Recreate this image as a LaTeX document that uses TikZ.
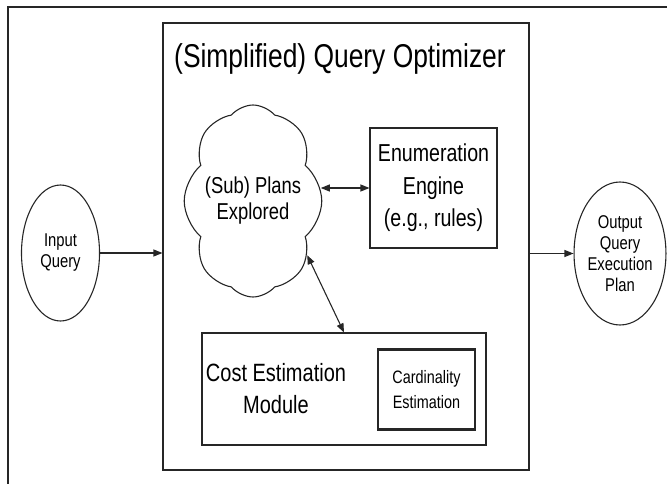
\documentclass[tikz,border=0pt]{standalone}
\usepackage{fontspec}
\setmainfont[FakeStretch=0.8]{Liberation Sans}
\usetikzlibrary{shapes.geometric,shapes.symbols,arrows.meta}
\begin{document}
\begin{tikzpicture}[x=1pt,y=-1pt,
  line/.style={draw=black!85, line width=1.1pt},
  box/.style={line, rectangle, inner sep=0pt},
  oval/.style={line, ellipse, inner sep=0pt, align=center,
    font=\fontsize{18.5}{21}\selectfont},
  tip/.style={Triangle[length=9pt,width=7pt]},
  flow/.style={line, -{Triangle[length=9pt,width=7pt]}},
  both/.style={line, {Triangle[length=9pt,width=7pt]}-{Triangle[length=9pt,width=7pt]}}
]
\useasboundingbox (0,0) rectangle (667,484);

% page frame
\draw[line, line width=1.4pt] (8,484) |- (667,7);

% optimizer container
\node[box, minimum width=366pt, minimum height=447pt] (opt) at (346,246.5) {};
\node[anchor=base, font=\fontsize{33}{40}\selectfont] (title) at (340,68) {(Simplified) Query Optimizer};

% explored plans cloud
\node[line, cloud, cloud puffs=8, cloud puff arc=100, cloud ignores aspect,
      minimum width=136pt, minimum height=192pt, inner sep=0pt, align=center,
      font=\fontsize{23}{26}\selectfont] (cloud) at (253,201) {(Sub) Plans\\Explored};

% enumeration engine
\node[box, minimum width=127pt, minimum height=120pt, align=center,
      font=\fontsize{24.5}{32.5}\selectfont] (enum) at (433.5,188) {Enumeration\\Engine\\(e.g., rules)};

% cost estimation
\node[box, minimum width=284pt, minimum height=112pt] (cost) at (344,389) {};
\node[align=center, font=\fontsize{25}{32}\selectfont] (costtxt) at (276,389) {Cost Estimation\\Module};
\node[box, line width=2.6pt, minimum width=97pt, minimum height=80pt, align=center,
      font=\fontsize{18}{25}\selectfont] (card) at (426.5,389.5) {Cardinality\\Estimation};

% input and output
\node[oval, minimum width=78pt, minimum height=136pt] (in) at (60.5,253) {Input\\Query};
\node[oval, minimum width=76pt, minimum height=143pt] (out) at (620,253.5) {Output\\Query\\Execution\\Plan};

% connectors
\draw[flow] (in.east) -- (in.east -| opt.west);
\draw[flow] (opt.east |- out.west) -- (out.west);
\draw[both] (enum.west -| cloud.10) -- (enum.west);
\draw[both] (cloud.-45) -- (cost.north);
\end{tikzpicture}
\end{document}
